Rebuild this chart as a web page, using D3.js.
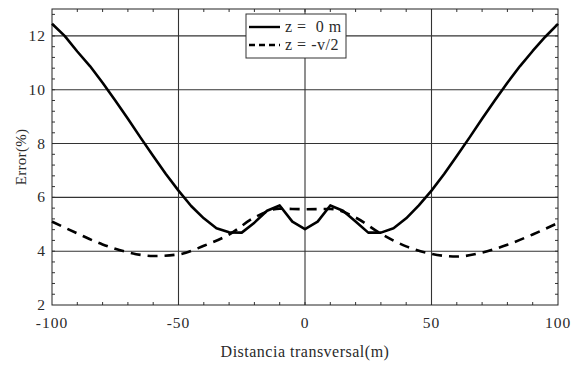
<!DOCTYPE html>
<html>
<head>
<meta charset="utf-8">
<script src="https://cdn.jsdelivr.net/npm/d3@7"></script>
<style>
    body { margin: 0; background: #fff; }
    svg { display: block; }
    text { font-family: 'Liberation Serif', 'Times New Roman', serif; fill: #2a2a2a; }
</style>
</head>
<body>
<svg id="chart" width="573" height="365"></svg>
<script>
// distance (m) and error (%)
var xSolid = [-100, -95, -90, -85, -80, -75, -70, -65, -60, -55, -50, -45, -40, -35, -30, -25, -20, -15, -10, -5,
    0, 5, 10, 15, 20, 25, 30, 35, 40, 45, 50, 55, 60, 65, 70, 75, 80, 85, 90, 95, 100];
var errSolid = [12.45, 12.0, 11.42, 10.88, 10.26, 9.6, 8.92, 8.22, 7.54, 6.87, 6.25, 5.68, 5.22, 4.85, 4.7, 4.69, 5.06, 5.5, 5.7, 5.1,
    4.82, 5.1, 5.7, 5.5, 5.1, 4.69, 4.69, 4.85, 5.22, 5.7, 6.25, 6.87, 7.54, 8.22, 8.92, 9.6, 10.26, 10.88, 11.44, 11.97, 12.45];

var xDashed = [-100, -90, -80, -70, -60, -50, -40, -30, -20, -10, 0, 10, 20, 30, 40, 50, 60, 70, 80, 90, 100];
var errDashed = [5.1, 4.66, 4.25, 3.96, 3.82, 3.88, 4.2, 4.62, 5.25, 5.58, 5.56, 5.57, 5.25, 4.65, 4.18, 3.9, 3.8, 3.95, 4.24, 4.62, 5.05];

var xTickLabels = [-100, -50, 0, 50, 100];
var yTickLabels = [2, 4, 6, 8, 10, 12];
var legendLabels = ['z =  0 m', 'z = -v/2'];

var svg = d3.select('#chart');
var pLeft = 52, pRight = 558, pTop = 9, pBottom = 305;

var x = d3.scaleLinear().domain([-100, 100]).range([pLeft, pRight]);
var y = d3.scaleLinear().domain([2, 13]).range([pBottom, pTop]);

// grid lines
var grid = svg.append('g').attr('stroke', '#333').attr('stroke-width', 1.1);
grid.selectAll('line.gx')
    .data(xTickLabels.slice(1, -1))
    .enter().append('line')
    .attr('x1', d => x(d)).attr('x2', d => x(d))
    .attr('y1', pTop).attr('y2', pBottom);
grid.selectAll('line.gy')
    .data(yTickLabels.slice(1))
    .enter().append('line')
    .attr('x1', pLeft).attr('x2', pRight)
    .attr('y1', d => y(d)).attr('y2', d => y(d));

// minor ticks, all pointing inwards
var xMinor = d3.range(-90, 100, 10);
var yMinor = d3.range(2.4, 13, 0.4);
var ticks = svg.append('g').attr('stroke', '#333').attr('stroke-width', 1);
xMinor.forEach(function (d) {
    ticks.append('line').attr('x1', x(d)).attr('x2', x(d)).attr('y1', pBottom).attr('y2', pBottom - 3);
    ticks.append('line').attr('x1', x(d)).attr('x2', x(d)).attr('y1', pTop).attr('y2', pTop + 3);
});
yMinor.forEach(function (d) {
    ticks.append('line').attr('x1', pLeft).attr('x2', pLeft + 3).attr('y1', y(d)).attr('y2', y(d));
    ticks.append('line').attr('x1', pRight).attr('x2', pRight - 3).attr('y1', y(d)).attr('y2', y(d));
});

// frame
svg.append('rect')
    .attr('x', pLeft).attr('y', pTop)
    .attr('width', pRight - pLeft).attr('height', pBottom - pTop)
    .attr('fill', 'none').attr('stroke', '#222').attr('stroke-width', 1);

// tick labels
svg.append('g').selectAll('text')
    .data(xTickLabels)
    .enter().append('text')
    .attr('x', d => x(d)).attr('y', 328)
    .attr('text-anchor', 'middle')
    .attr('font-size', 15.5)
    .attr('letter-spacing', 1)
    .text(d => d);
svg.append('g').selectAll('text')
    .data(yTickLabels)
    .enter().append('text')
    .attr('x', 46).attr('y', d => y(d) + 5)
    .attr('text-anchor', 'end')
    .attr('font-size', 15.5)
    .attr('letter-spacing', 1)
    .text(d => d);

// axis titles
svg.append('text')
    .attr('x', x(0)).attr('y', 357)
    .attr('text-anchor', 'middle')
    .attr('font-size', 16)
    .attr('letter-spacing', 0.5)
    .text('Distancia transversal(m)');
svg.append('text')
    .attr('transform', 'translate(26,' + (pTop + pBottom) / 2 + ') rotate(-90)')
    .attr('text-anchor', 'middle')
    .attr('font-size', 15)
    .attr('letter-spacing', 0.3)
    .text('Error(%)');

// curves
var line = d3.line().x(d => x(d[0])).y(d => y(d[1]));
svg.append('path')
    .datum(d3.zip(xSolid, errSolid))
    .attr('d', line)
    .attr('fill', 'none').attr('stroke', '#000').attr('stroke-width', 2.6)
    .attr('stroke-linejoin', 'round');
svg.append('path')
    .datum(d3.zip(xDashed, errDashed))
    .attr('d', line.curve(d3.curveMonotoneX))
    .attr('fill', 'none').attr('stroke', '#000').attr('stroke-width', 2.6)
    .attr('stroke-dasharray', '10,7');

// legend
var legend = svg.append('g');
legend.append('rect')
    .attr('x', 246).attr('y', 14).attr('width', 100).attr('height', 44)
    .attr('fill', '#fff').attr('stroke', '#333').attr('stroke-width', 1);
legendLabels.forEach(function (label, i) {
    var ly = 27 + i * 18;
    legend.append('line')
        .attr('x1', 249).attr('x2', 280).attr('y1', ly).attr('y2', ly)
        .attr('stroke', '#000').attr('stroke-width', 2.4)
        .attr('stroke-dasharray', i === 1 ? '6,4' : null);
    legend.append('text')
        .attr('x', 285).attr('y', ly + 5)
        .attr('font-size', 16)
        .attr('letter-spacing', 0.5)
        .style('white-space', 'pre')
        .text(label);
});
</script>
</body>
</html>
